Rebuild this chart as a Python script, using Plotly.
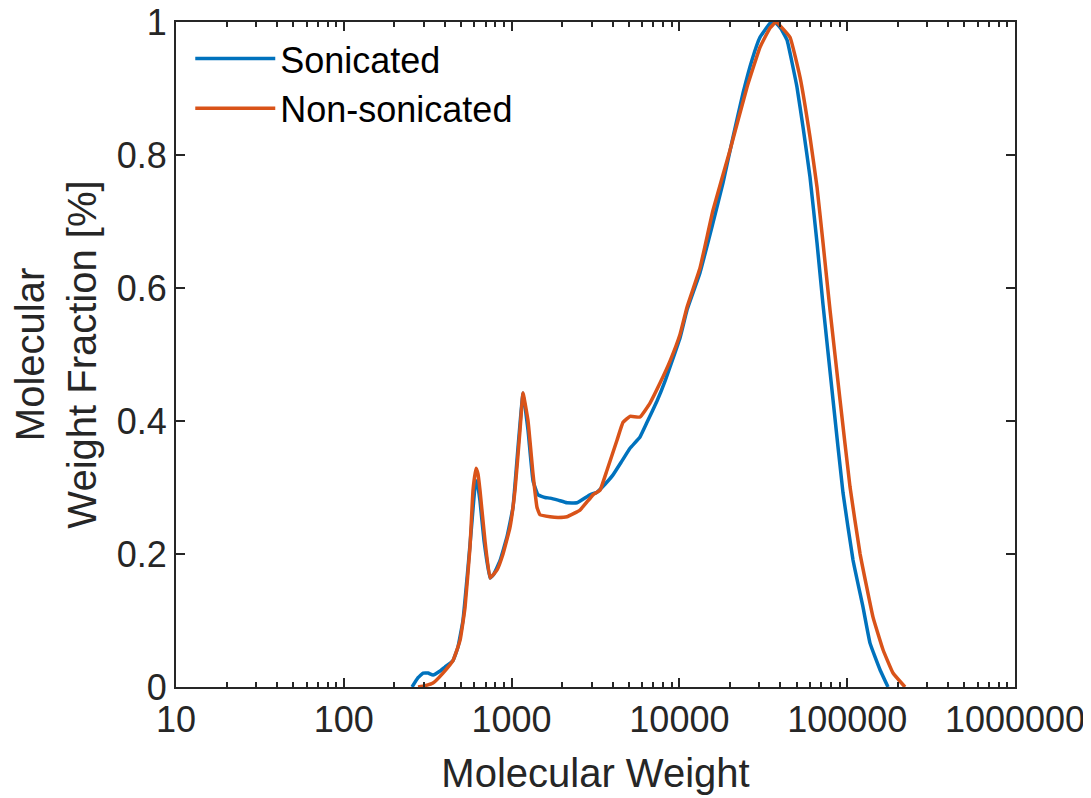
import plotly.graph_objects as go

# molecular weight distribution
mw_sonicated = [255, 277, 297, 318, 340, 375, 401, 448, 479, 513, 550, 581, 605, 622, 648,
                685, 744, 785, 853, 939, 1019, 1092, 1170, 1253, 1342, 1437, 1581, 1694,
                1891, 2138, 2454, 2932, 3228, 3603, 4022, 4550, 5077, 5825, 6411, 7354,
                8209, 10083, 11100, 13267, 15856, 18193, 20869, 23933, 27077, 30220,
                34670, 37129, 40330, 43778, 50218, 54531, 60025, 66070, 71750, 82302,
                94406, 108290, 124220, 136750, 156870, 175060]
frac_sonicated = [0.0, 0.014, 0.021, 0.021, 0.018, 0.024, 0.030, 0.040, 0.06, 0.10, 0.18,
                  0.25, 0.30, 0.31, 0.28, 0.22, 0.164, 0.17, 0.19, 0.226, 0.27, 0.36, 0.442,
                  0.386, 0.31, 0.289, 0.285, 0.284, 0.281, 0.277, 0.277, 0.289, 0.293, 0.305,
                  0.319, 0.34, 0.359, 0.376, 0.398, 0.43, 0.46, 0.525, 0.567, 0.623, 0.698,
                  0.758, 0.827, 0.893, 0.943, 0.977, 0.998, 1.0, 0.99, 0.973, 0.902, 0.842,
                  0.767, 0.668, 0.575, 0.432, 0.292, 0.191, 0.120, 0.066, 0.026, 0.0]

mw_nonsonicated = [277, 305, 340, 390, 448, 493, 528, 565, 589, 614, 631, 648, 694, 744,
                   819, 889, 978, 1048, 1122, 1170, 1253, 1342, 1418, 1476, 1694, 1891,
                   2138, 2556, 3055, 3365, 3703, 4247, 4613, 5077, 5825, 6682, 7665, 8790,
                   10083, 11100, 13267, 15856, 20025, 25284, 30220, 34670, 37645, 45615,
                   52333, 60025, 66070, 71750, 78982, 90602, 103920, 119190, 142500,
                   163510, 187490, 221070]
frac_nonsonicated = [0.0, 0.002, 0.006, 0.021, 0.040, 0.07, 0.12, 0.21, 0.296, 0.329, 0.32,
                     0.296, 0.22, 0.164, 0.176, 0.20, 0.24, 0.296, 0.386, 0.442, 0.40, 0.32,
                     0.27, 0.259, 0.256, 0.255, 0.256, 0.266, 0.289, 0.296, 0.326, 0.371,
                     0.398, 0.407, 0.406, 0.427, 0.457, 0.49, 0.53, 0.571, 0.63, 0.717, 0.807,
                     0.902, 0.962, 0.991, 1.0, 0.977, 0.917, 0.827, 0.752, 0.668, 0.567, 0.432,
                     0.301, 0.201, 0.105, 0.056, 0.021, 0.0]

x_ticks = [10, 100, 1000, 10000, 100000, 1000000]
y_ticks = [0, 0.2, 0.4, 0.6, 0.8, 1]

axcol = "#262626"
fig = go.Figure()
fig.add_trace(go.Scatter(x=mw_sonicated, y=frac_sonicated, mode="lines", name="Sonicated",
                         line=dict(color="#0072BD", width=3.5, shape="spline", smoothing=0.3)))
fig.add_trace(go.Scatter(x=mw_nonsonicated, y=frac_nonsonicated, mode="lines", name="Non-sonicated",
                         line=dict(color="#D95319", width=3.5, shape="spline", smoothing=0.3)))

fig.update_xaxes(type="log", range=[1, 6], tickvals=x_ticks, ticktext=[str(v) for v in x_ticks],
                 ticks="inside", ticklen=9, tickwidth=2, tickcolor=axcol,
                 showline=True, linewidth=2, linecolor=axcol, mirror="allticks",
                 showgrid=False, zeroline=False, automargin=False, ticklabeloverflow="allow",
                 minor=dict(ticks="inside", ticklen=5, tickwidth=1.5, tickcolor=axcol,
                            dtick="D1", showgrid=False),
                 tickfont=dict(size=36, color=axcol),
                 title=dict(text="Molecular Weight", font=dict(size=40, color=axcol), standoff=20))
fig.update_yaxes(range=[0, 1], tickvals=y_ticks, ticktext=["0", "0.2", "0.4", "0.6", "0.8", "1"],
                 ticks="inside", ticklen=9, tickwidth=2, tickcolor=axcol,
                 showline=True, linewidth=2, linecolor=axcol, mirror="allticks",
                 showgrid=False, zeroline=False, automargin=False, ticklabeloverflow="allow",
                 tickfont=dict(size=36, color=axcol),
                 title=dict(text="Molecular<br>Weight Fraction [%]", font=dict(size=40, color=axcol),
                            standoff=21))

# page body has an 8px margin, so the figure is a bit smaller than the window
fig.update_layout(
    width=1083, height=790,
    margin=dict(l=168, r=76, t=14, b=111),
    paper_bgcolor="white", plot_bgcolor="white",
    font=dict(family="Liberation Sans, Arial, sans-serif", color=axcol),
    legend=dict(x=0.017, y=0.99, xanchor="left", yanchor="top", bgcolor="rgba(0,0,0,0)",
                font=dict(size=36, color="black"), itemwidth=80, tracegroupgap=0),
    showlegend=True,
)

fig.write_html("out.html")
